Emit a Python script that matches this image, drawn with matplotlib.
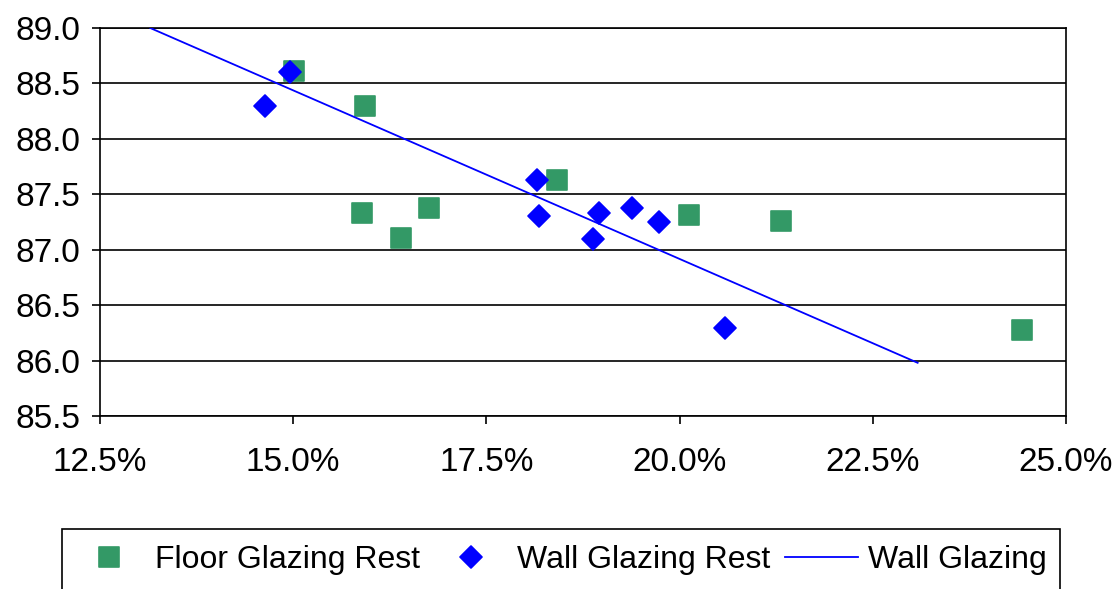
import matplotlib
matplotlib.use("Agg")
import matplotlib.pyplot as plt
from matplotlib.markers import MarkerStyle
from matplotlib.patches import Rectangle
from matplotlib.ticker import FuncFormatter, MultipleLocator

GREEN = "#339966"
BLUE = "#0000ff"

# glazing share (%) vs. score
floor_x = [15.01, 15.93, 15.89, 16.39, 16.76, 18.42, 20.12, 21.31, 24.43]
floor_y = [88.61, 88.30, 87.33, 87.11, 87.38, 87.63, 87.31, 87.26, 86.28]

wall_x = [14.63, 14.96, 18.15, 18.18, 18.88, 18.96, 19.38, 19.73, 20.59]
wall_y = [88.30, 88.60, 87.63, 87.30, 87.10, 87.33, 87.38, 87.25, 86.29]

# fitted wall glazing trend
trend_x = [13.15, 23.08]
trend_y = [89.00, 85.98]

plt.rcParams["font.family"] = ["Liberation Sans", "DejaVu Sans"]
FS = 23
TICK_FS = 24

fig = plt.figure(figsize=(11.19, 5.89), dpi=100)
ax = fig.add_axes([100 / 1119, 1 - 416 / 589, 966 / 1119, 388 / 589])

sq = MarkerStyle("s", joinstyle="round")
dm = MarkerStyle("D", joinstyle="round")
ax.plot(floor_x, floor_y, ls="none", marker=sq, ms=14.5, mfc=GREEN, mec=GREEN,
        mew=1.2, label="Floor Glazing Rest", zorder=3)
ax.plot(wall_x, wall_y, ls="none", marker=dm, ms=11.2, mfc=BLUE, mec=BLUE,
        mew=1.2, label="Wall Glazing Rest", zorder=4)
ax.plot(trend_x, trend_y, color=BLUE, lw=1.3, label="Wall Glazing", zorder=5)

ax.set_xlim(12.5, 25.0)
ax.set_ylim(85.5, 89.0)
ax.xaxis.set_major_locator(MultipleLocator(2.5))
ax.yaxis.set_major_locator(MultipleLocator(0.5))
ax.xaxis.set_major_formatter(FuncFormatter(lambda v, _: f"{v:.1f}%"))
ax.yaxis.set_major_formatter(FuncFormatter(lambda v, _: f"{v:.1f}"))
ax.tick_params(axis="x", direction="out", length=6, width=1.2, pad=16, labelsize=TICK_FS)
ax.tick_params(axis="y", direction="out", length=6, width=1.2, pad=8, labelsize=TICK_FS)
ax.yaxis.grid(True, color="black", lw=1.2)
ax.set_axisbelow(True)
for s in ax.spines.values():
    s.set_linewidth(1.2)
    s.set_color("black")

leg = fig.legend(loc="center left", bbox_to_anchor=(62 / 1119, 1 - 560 / 589),
                 ncol=3, frameon=False, fontsize=FS, handlelength=2.3,
                 handletextpad=0.3, columnspacing=0.45, borderpad=0.31,
                 borderaxespad=0)
fig.add_artist(Rectangle((62 / 1119, -0.01), 998 / 1119, 1 - 529 / 589 + 0.01,
                         transform=fig.transFigure, fill=False, ec="black", lw=1.2))

fig.savefig("out.png")
